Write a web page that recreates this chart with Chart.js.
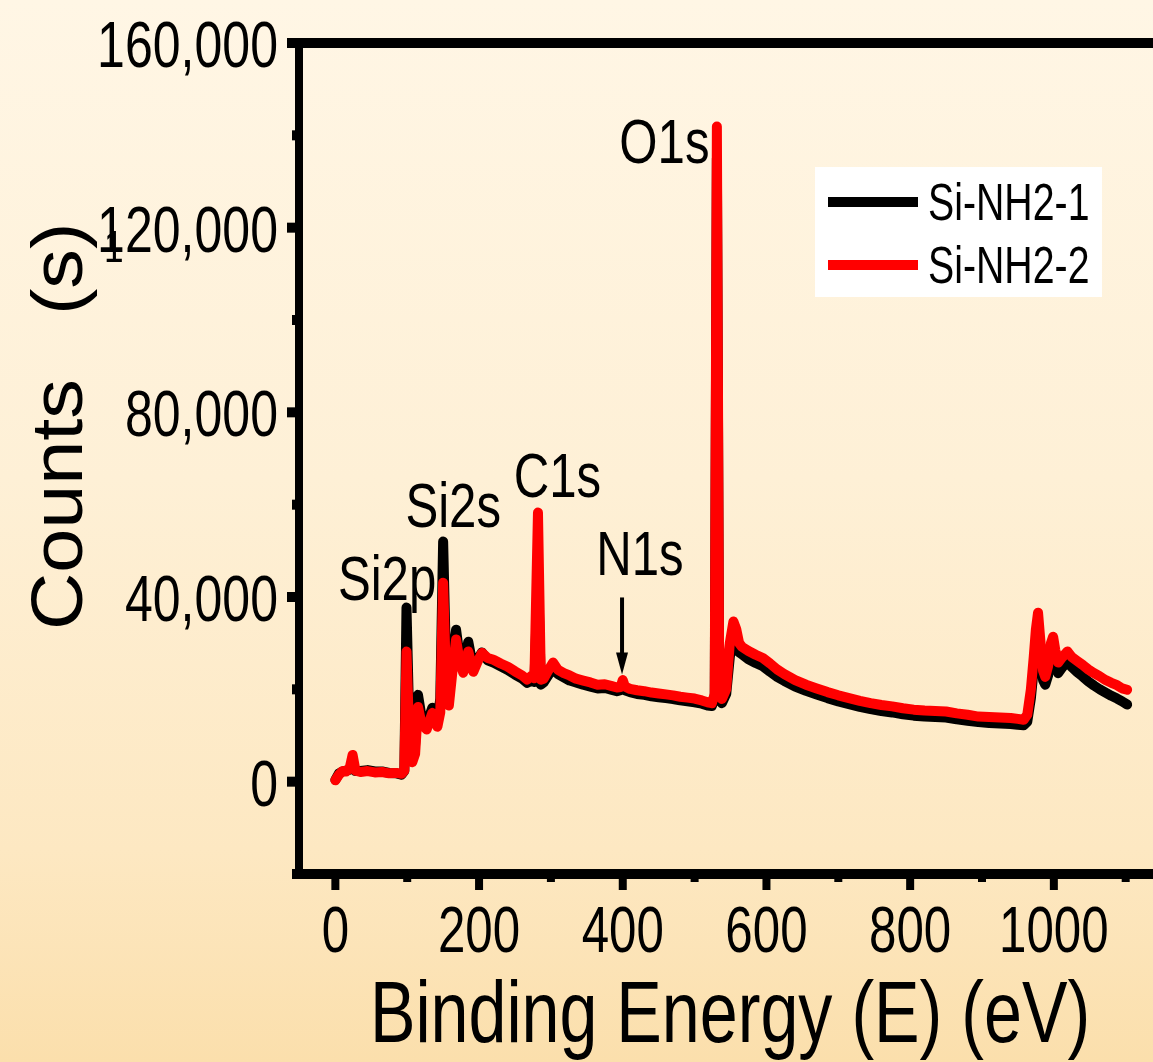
<!DOCTYPE html>
<html>
<head>
<meta charset="utf-8">
<script src="https://cdn.jsdelivr.net/npm/chart.js@4/dist/chart.umd.min.js"></script>
<style>
  html, body { margin: 0; padding: 0; }
  body {
    width: 1153px; height: 1062px; overflow: hidden;
    background: linear-gradient(to bottom, #FFF6E5 0%, #FEF0D6 45%, #FDE8C2 80%, #FBDFAC 100%);
  }
  canvas { display: block; }
</style>
</head>
<body>
<canvas id="c" width="1153" height="1062"></canvas>
<script>
// ---- data (binding energy in eV, counts) ----
const energy = [0,5,10,15,20,24,28,35,45,55,65,75,85,92,96,99,103,107,111,115,120,127,135,142,146,150,154,158,163,168,173,178,185,192,198,204,212,220,230,240,250,260,267,272,277,282,286,290,296,303,310,318,326,335,345,355,365,375,385,392,397,400,403,410,420,430,440,450,460,470,480,490,500,510,518,524,528,531,534,538,544,549,554,558,562,566,575,585,595,605,615,625,640,655,670,685,700,715,730,745,760,775,790,805,820,835,850,865,880,895,910,925,940,950,958,963,968,972,975,978,981,985,988,992,996,999,1002,1006,1012,1019,1025,1032,1040,1048,1056,1064,1072,1080,1088,1095,1102];

const countsSiNH2_1 = [400,1800,2200,2400,2600,4000,2300,2300,2500,2200,2200,1900,1800,1500,2300,37700,12000,5000,8000,18800,14000,12500,16000,13000,18000,52000,26000,18000,27000,32900,27000,24500,30300,24500,26500,28000,26300,25800,25000,24200,23200,22300,21400,21800,21600,45000,21000,21500,23000,24500,23300,22600,21900,21500,21000,20600,20200,20300,19900,19600,19800,21000,19800,19400,19000,18800,18500,18300,18100,17900,17600,17400,17200,16900,16500,16400,18000,135000,28000,17000,19000,27000,32000,30000,28000,27600,26500,25700,25000,23800,22700,21800,20600,19700,18900,18100,17400,16800,16200,15700,15300,15000,14600,14300,14100,14000,13900,13500,13200,12900,12700,12600,12500,12300,12200,13000,18000,24500,29500,33000,28000,22000,21000,23000,27500,29000,26000,23500,24800,26000,24800,23800,22800,21700,20800,20000,19300,18600,18000,17400,16700];

const countsSiNH2_2 = [300,1500,2300,2200,3000,5800,2400,2100,2300,2000,2100,1800,1900,1700,2400,28200,9000,4200,6000,16200,12500,11300,14900,11900,15000,43100,22000,16500,24000,30800,26000,23600,28200,23800,26000,27900,26800,26400,25600,24900,23900,23000,22100,22800,22400,58300,22100,22300,24000,25800,24200,23500,23000,22300,21900,21500,21000,21100,20700,20400,20500,22000,20600,20100,19800,19600,19300,19100,18900,18700,18400,18200,18000,17600,17200,17000,19000,141900,30000,17900,20000,30000,34700,33000,30000,29200,28300,27500,26800,25600,24300,23300,22000,21000,20200,19400,18700,18100,17500,17000,16600,16300,15900,15600,15400,15300,15200,14800,14500,14100,14000,13900,13800,13600,13400,14500,20000,27000,33000,36600,31000,24000,22700,25000,30000,31400,28500,25800,27000,28200,27000,26200,25300,24300,23500,22800,22000,21400,20900,20200,19900];

const seriesNames = ["Si-NH2-1", "Si-NH2-2"];
const seriesColors = ["#000000", "#FF0000"];

const xMajorTicks = [0, 200, 400, 600, 800, 1000];
const xMinorTicks = [100, 300, 500, 700, 900, 1100];
const yMajorTicks = [0, 40000, 80000, 120000, 160000];
const yMinorTicks = [-20000, 20000, 60000, 100000, 140000];

const peakLabels = ["Si2p", "Si2s", "C1s", "N1s", "O1s"];
const peakLabelEnergy = [72, 164, 309, 424, 458];
const peakLabelCounts = [39400, 55200, 61700, 44800, 134100];
const arrowEnergy = 399;
const arrowFrom = 39900;
const arrowTo = 23200;

const xTitle = "Binding Energy (E) (eV)";
const yTitleA = "Counts";
const yTitleB = "(s)";

// ---- helpers ----
const FONT = '"Liberation Sans", Arial, sans-serif';
function txt(ctx, s, x, y, size, align, sx) {
  ctx.save();
  ctx.translate(x, y);
  ctx.scale(sx, 1);
  ctx.font = size + 'px ' + FONT;
  ctx.fillStyle = '#000';
  ctx.textAlign = align;
  ctx.textBaseline = 'alphabetic';
  ctx.fillText(s, 0, 0);
  ctx.restore();
}

const decor = {
  id: 'decor',
  afterDatasetsDraw(chart) {
    const ctx = chart.ctx;
    const xs = chart.scales.x, ys = chart.scales.y;
    const a = chart.chartArea;
    ctx.save();
    ctx.fillStyle = '#000';
    // frame: top, left, bottom
    ctx.fillRect(287, a.top - 5, 1153 - 287, 10);
    ctx.fillRect(a.left - 3, a.top - 5, 8, a.bottom - a.top + 10);
    ctx.fillRect(a.left - 5, a.bottom - 5, 1153 - a.left + 5, 10);
    // x ticks
    xMajorTicks.forEach(v => {
      const px = xs.getPixelForValue(v);
      ctx.fillRect(px - 4, a.bottom, 8, 16);
      txt(ctx, String(v), px, 952, 64, 'center', 0.77);
    });
    xMinorTicks.forEach(v => {
      const px = xs.getPixelForValue(v);
      ctx.fillRect(px - 4, a.bottom, 8, 8);
    });
    // y ticks
    yMajorTicks.forEach(v => {
      const py = ys.getPixelForValue(v);
      ctx.fillRect(a.left - 11, py - 5, 12, 10);
      txt(ctx, v.toLocaleString('en-US'), 278, py + 24, 65, 'right', 0.77);
    });
    yMinorTicks.forEach(v => {
      const py = ys.getPixelForValue(v);
      ctx.fillRect(a.left - 6, py - 5, 7, 10);
    });
    // axis titles
    txt(ctx, xTitle, 730, 1042, 88, 'center', 0.775);
    ctx.save();
    ctx.translate(82, 630);
    ctx.rotate(-Math.PI / 2);
    txt(ctx, yTitleA, 0, 0, 72, 'left', 1.1);
    ctx.restore();
    ctx.save();
    ctx.translate(82, 315);
    ctx.rotate(-Math.PI / 2);
    txt(ctx, yTitleB, 0, 0, 72, 'left', 1.1);
    ctx.restore();
    txt(ctx, '1', 104, 262, 44, 'left', 0.8);
    // peak labels
    peakLabels.forEach((s, i) => {
      txt(ctx, s, xs.getPixelForValue(peakLabelEnergy[i]), ys.getPixelForValue(peakLabelCounts[i]), 63, 'center', 0.78);
    });
    // arrow
    const ax = xs.getPixelForValue(arrowEnergy);
    const ay0 = ys.getPixelForValue(arrowFrom);
    const ay1 = ys.getPixelForValue(arrowTo);
    ctx.fillRect(ax - 2, ay0, 4, ay1 - ay0 - 16);
    ctx.beginPath();
    ctx.moveTo(ax - 6, ay1 - 22);
    ctx.lineTo(ax + 6, ay1 - 22);
    ctx.lineTo(ax, ay1);
    ctx.closePath();
    ctx.fill();
    // legend
    ctx.fillStyle = '#FFFFFF';
    ctx.fillRect(815, 167, 287, 130);
    [202, 265].forEach((ly, i) => {
      ctx.fillStyle = seriesColors[i];
      ctx.fillRect(828, ly - 5, 90, 10);
      txt(ctx, seriesNames[i], 928, ly + 18, 51, 'left', 0.77);
    });
    ctx.restore();
  }
};

new Chart(document.getElementById('c').getContext('2d'), {
  type: 'line',
  data: {
    datasets: [
      {
        label: seriesNames[0],
        data: energy.map((e, i) => ({ x: e, y: countsSiNH2_1[i] })),
        borderColor: seriesColors[0],
        borderWidth: 10,
        pointRadius: 0,
        tension: 0,
        borderJoinStyle: 'round',
        borderCapStyle: 'round',
        fill: false,
        order: 2
      },
      {
        label: seriesNames[1],
        data: energy.map((e, i) => ({ x: e, y: countsSiNH2_2[i] })),
        borderColor: seriesColors[1],
        borderWidth: 10,
        pointRadius: 0,
        tension: 0,
        borderJoinStyle: 'round',
        borderCapStyle: 'round',
        fill: false,
        order: 1
      }
    ]
  },
  options: {
    responsive: false,
    animation: false,
    devicePixelRatio: 1,
    layout: { padding: { left: 298, top: 43, right: 0, bottom: 188 } },
    plugins: { legend: { display: false }, tooltip: { enabled: false } },
    scales: {
      x: { type: 'linear', min: -52, max: 1138, display: false },
      y: { type: 'linear', min: -20000, max: 160000, display: false }
    }
  },
  plugins: [decor]
});
</script>
</body>
</html>
